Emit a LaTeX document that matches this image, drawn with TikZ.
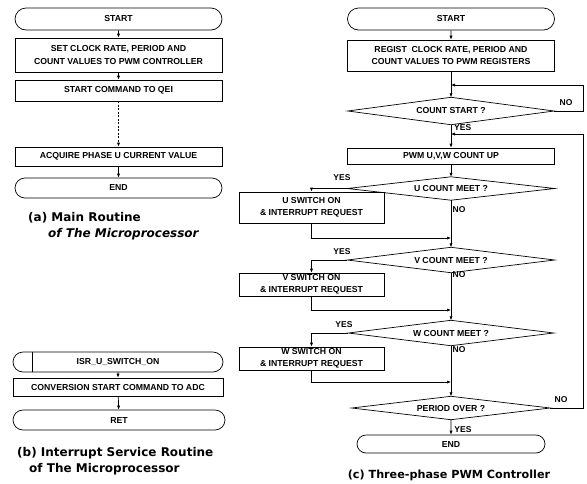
\documentclass[tikz,border=0pt]{standalone}
\usepackage{fontspec}
\setmainfont{Liberation Sans}
\newfontfamily\capfont{DejaVu Sans}
\usetikzlibrary{arrows.meta,shapes.misc}
\tikzset{
 ln/.style={line width=0.7pt},
 arr/.style={ln,-{Latex[length=4pt,width=3.2pt]}},
 txt/.style={font=\fontsize{8.7}{12.5}\selectfont\bfseries, align=center},
 proc/.style={txt,draw,ln,rectangle,inner sep=0pt,minimum width=#1},
 term/.style={txt,draw,ln,rounded rectangle,inner sep=0pt,minimum width=#1},
 dec/.style={txt,rectangle,inner sep=0pt,minimum width=#1},
 lab/.style={font=\fontsize{8.5}{10}\selectfont\bfseries, inner sep=0pt},
 captxt/.style={font=\capfont\fontsize{12}{14}\selectfont\bfseries, inner sep=0pt, anchor=base west},
}
\newcommand\drawdiam[1]{\draw[ln] (#1.west)--(#1.north)--(#1.east)--(#1.south)--cycle;}
\begin{document}
\begin{tikzpicture}[x=1pt,y=-1pt]
\useasboundingbox (0,0) rectangle (587,483);
% ---------- (a) ----------
\node[term=207pt,minimum height=22pt] (startA) at (118.5,19) {START};
\node[proc=207pt,minimum height=34pt] (setA) at (118.5,55) {SET CLOCK RATE, PERIOD AND\\COUNT VALUES TO PWM CONTROLLER};
\node[proc=207pt,minimum height=21pt] (qei) at (118.5,90.5) {START COMMAND TO QEI};
\node[proc=207pt,minimum height=19pt] (acq) at (118.5,156.5) {ACQUIRE PHASE U CURRENT VALUE};
\node[term=207pt,minimum height=20pt] (endA) at (118.5,188) {END};
\draw[arr] (startA) -- (setA);
\draw[arr] (setA) -- (qei);
\draw[arr,dash pattern=on 2pt off 1.5pt] (qei) -- (acq);
\draw[arr] (acq) -- (endA);
\node[captxt] (capA1) at (28,221) {(a) Main Routine};
\node[captxt,font=\capfont\fontsize{12}{14}\selectfont\bfseries\itshape] (capA2) at (48,237) {of The Microprocessor};
% ---------- (b) ----------
\node[term=210pt,minimum height=20pt] (isr) at (118,362) {ISR\_U\_SWITCH\_ON};
\draw[ln] ([xshift=-86pt]isr.north) -- ([xshift=-86pt]isr.south);
\node[proc=210pt,minimum height=18pt] (conv) at (118,387) {CONVERSION START COMMAND TO ADC};
\node[term=212pt,minimum height=20pt] (ret) at (119,420) {RET};
\draw[arr] (isr) -- (conv);
\draw[arr] (conv) -- (ret);
\node[captxt] (capB1) at (17,456) {(b) Interrupt Service Routine};
\node[captxt] (capB2) at (29,472) {of The Microprocessor};
% ---------- (c) ----------
\node[term=207pt,minimum height=22pt] (startC) at (451,19) {START};
\node[proc=207pt,minimum height=31pt] (reg) at (451,55.5) {REGIST\ \ CLOCK RATE, PERIOD AND\\COUNT VALUES TO PWM REGISTERS};
\coordinate (j1) at (451,85);
\coordinate (r1) at (583,85);
\node[dec=206pt,minimum height=27pt] (cs) at (451,111) {COUNT START ?};
\drawdiam{cs}
\coordinate (j2) at (451,134);
\coordinate (r2) at (583,134);
\node[proc=207pt,minimum height=16pt] (pwm) at (451,156) {PWM U,V,W COUNT UP};
\node[dec=207pt,minimum height=23pt] (ucm) at (451,188.5) {U COUNT MEET ?};
\drawdiam{ucm}
\node[proc=145pt,minimum height=31pt] (ubox) at (311.5,207.5) {U SWITCH ON\\\& INTERRUPT REQUEST};
\coordinate (ju) at (451,238);
\node[dec=207pt,minimum height=25pt] (vcm) at (451,260) {V COUNT MEET ?};
\drawdiam{vcm}
\node[proc=145pt,minimum height=23pt] (vbox) at (311.5,284.5) {V SWITCH ON\\\& INTERRUPT REQUEST};
\coordinate (jv) at (451,310);
\node[dec=205pt,minimum height=25pt] (wcm) at (451,333) {W COUNT MEET ?};
\drawdiam{wcm}
\node[proc=145pt,minimum height=23pt] (wbox) at (311.5,358.5) {W SWITCH ON\\\& INTERRUPT REQUEST};
\coordinate (jw) at (451,382);
\node[dec=198pt,minimum height=23pt] (pov) at (451,408) {PERIOD OVER ?};
\drawdiam{pov}
\node[term=188pt,minimum height=18pt] (endC) at (451,444) {END};
% connectors (c)
\draw[arr] (startC) -- (reg);
\draw[arr] (reg) -- (cs.north);
\draw[arr] (cs.east) -| (r1) -- (j1);
\draw[arr] (cs.south) -- (pwm);
\draw[arr] (pov.east) -| (r2) -- (j2);
\draw[arr] (pwm) -- (ucm.north);
\draw[arr] (ucm.west) -| (ubox.north);
\draw[arr] (ubox.south) |- (ju);
\draw[arr] (ucm.south) -- (vcm.north);
\draw[arr] (vcm.west) -| (vbox.north);
\draw[arr] (vbox.south) |- (jv);
\draw[arr] (vcm.south) -- (wcm.north);
\draw[arr] (wcm.west) -| (wbox.north);
\draw[arr] (wbox.south) |- (jw);
\draw[arr] (wcm.south) -- (pov.north);
\draw[arr] (pov.south) -- (endC);
% labels
\node[lab] (noCS) at (566,103) {NO};
\node[lab,anchor=west] (yesCS) at (454,128) {YES};
\node[lab] (yesU) at (342,178) {YES};
\node[lab] (noU) at (459,210) {NO};
\node[lab] (yesV) at (342,252) {YES};
\node[lab] (noV) at (459,275) {NO};
\node[lab] (yesW) at (344,325) {YES};
\node[lab] (noW) at (459,350) {NO};
\node[lab] (noP) at (561,400) {NO};
\node[lab] (yesP) at (463,430) {YES};
\node[captxt,anchor=base,font=\capfont\fontsize{11.2}{14}\selectfont\bfseries] (capC) at (449,478) {(c) Three-phase PWM Controller};
\end{tikzpicture}
\end{document}
